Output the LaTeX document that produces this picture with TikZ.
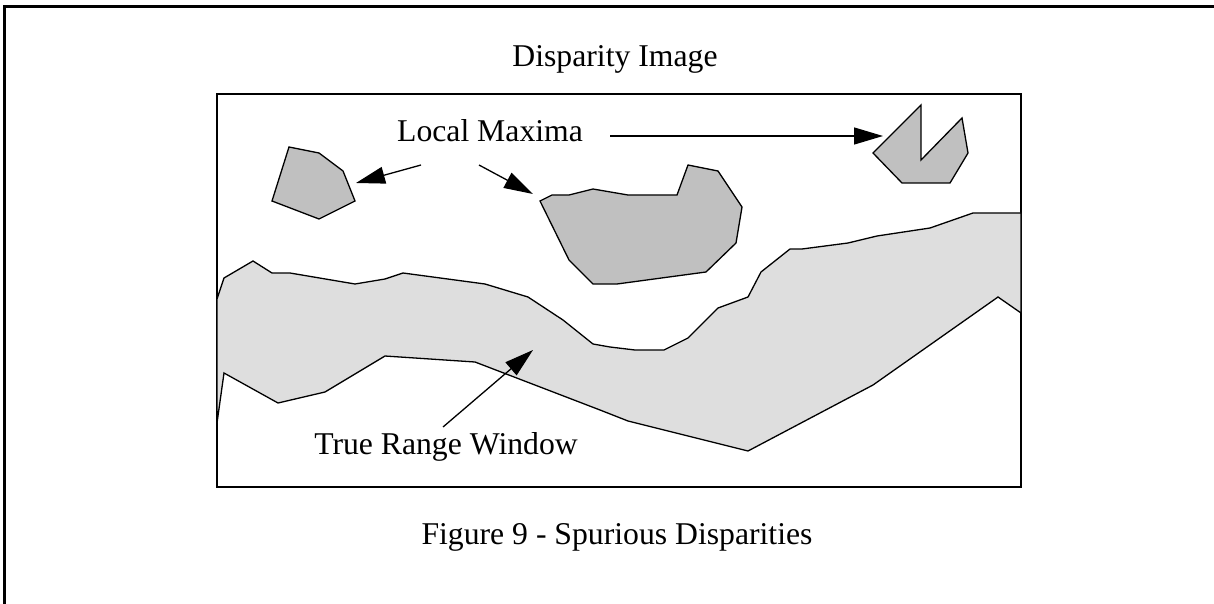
\documentclass[tikz,border=0pt]{standalone}
\usepackage{fontspec}
\setmainfont{Liberation Serif}
\usetikzlibrary{arrows.meta}
\definecolor{blobgray}{HTML}{C0C0C0}
\definecolor{bandgray}{HTML}{DEDEDE}
\tikzset{
  shape line/.style={draw=black, line width=0.65pt, line join=miter},
  blob/.style={shape line, fill=blobgray},
  band/.style={shape line, fill=bandgray},
  label/.style={font=\fontsize{15.85}{19}\selectfont, inner sep=0pt, anchor=base},
  pointer/.style={draw=black, line width=0.65pt, -{Triangle[length=14.5pt,width=8.5pt]}},
}
\begin{document}
\begin{tikzpicture}[x=0.5pt,y=-0.5pt]
\useasboundingbox (0,0) rectangle (1214,604);
\fill[white] (0,0) rectangle (1214,604);
% outer frame (only top and left visible)
\draw[line width=1.5pt] (4,604) -- (4,6.5) -- (1214,6.5);
% titles
\node[label] (title) at (615,67) {Disparity Image};
\node[label] (caption) at (617,544) {Figure 9 - Spurious Disparities};
% image frame
\draw[shape line] (217,94) rectangle (1021,487);
% true range window band
\draw[band] (217,299) -- (224,278) -- (253,261) -- (272,273) -- (290,273) -- (355,284) -- (385,279) -- (403,273) -- (485,284) -- (528,297) -- (563,320) -- (593,344) -- (610,347) -- (635,350) -- (664,350) -- (688,338) -- (718,308) -- (748,297) -- (761,272) -- (790,249) -- (802,249) -- (848,243) -- (877,236) -- (930,228) -- (973,213) -- (1021,213) -- (1021,313) -- (998,297) -- (873,385) -- (748,451) -- (628,421) -- (600,410) -- (475,362) -- (385,356) -- (325,392) -- (278,403) -- (224,373) -- (217,423) -- cycle;
% local maxima blobs
\draw[blob] (289,147) -- (319,153) -- (343,171) -- (355,201) -- (319,219) -- (272,201) -- cycle;
\draw[blob] (540,201) -- (552,195) -- (569,195) -- (593,189) -- (628,195) -- (677,195) -- (688,165) -- (718,171) -- (742,207) -- (736,243) -- (706,272) -- (617,284) -- (593,284) -- (569,260) -- cycle;
\draw[blob] (873,153) -- (921,105) -- (921,160) -- (962,118) -- (968,153) -- (950,183) -- (902,183) -- cycle;
% labels
\node[label] (maxima) at (490,142) {Local Maxima};
\node[label] (window) at (446,454) {True Range Window};
% arrow endpoints
\coordinate (m1s) at (421,165);
\coordinate (m1t) at (356,183);
\coordinate (m2s) at (479,165);
\coordinate (m2t) at (533,194);
\coordinate (m3s) at (610,136);
\coordinate (m3t) at (883,136);
\coordinate (w1s) at (443,427);
\coordinate (w1t) at (533,350);
\draw[pointer] (m1s) -- (m1t);
\draw[pointer] (m2s) -- (m2t);
\draw[pointer] (m3s) -- (m3t);
\draw[pointer] (w1s) -- (w1t);
\end{tikzpicture}
\end{document}
